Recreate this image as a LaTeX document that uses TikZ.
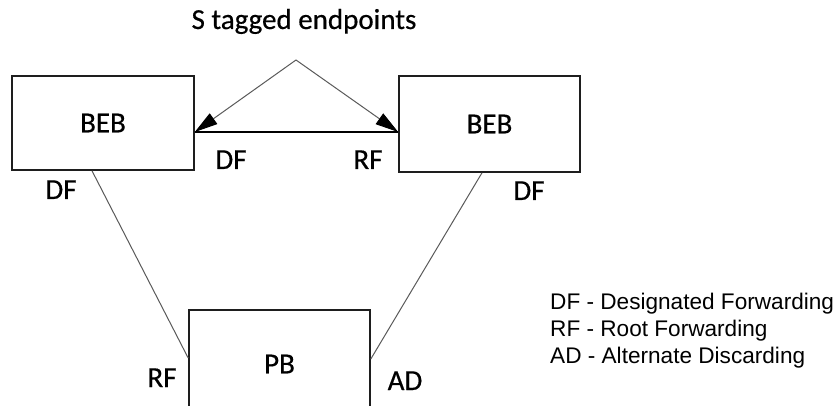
\documentclass[tikz,border=0pt]{standalone}
\usepackage{fontspec}
\setmainfont{Carlito}[FakeBold=0.5]
\newfontfamily\legendfont{Liberation Sans}
\usetikzlibrary{arrows.meta}
\definecolor{linegray}{HTML}{5A5A5A}
\definecolor{boxline}{HTML}{1E1E1E}
\tikzset{
  boxnode/.style={draw=boxline, line width=1.6pt, inner sep=0pt, minimum width=182pt,
    font=\fontsize{29}{34}\selectfont},
  portlabel/.style={anchor=base, inner sep=0pt, font=\fontsize{29}{34}\selectfont, text=black},
  legendline/.style={anchor=base west, inner sep=0pt, font=\legendfont\fontsize{22.6}{26}\selectfont},
  thinlink/.style={draw=linegray, line width=1pt},
  taglink/.style={draw=linegray, line width=1pt, -{Triangle[length=23pt,width=13pt,color=black]}},
  hlink/.style={draw=black, line width=1.5pt}
}
\begin{document}
\begin{tikzpicture}[x=1pt, y=-1pt]
\clip (0,0) rectangle (840,406);
\fill[white] (0,0) rectangle (840,406);
% boxes
\node[boxnode, minimum height=94pt] (lb) at (103,123) {BEB};
\node[boxnode, minimum height=96pt, minimum width=181pt] (rb) at (489.5,124) {BEB};
\node[boxnode, minimum height=108pt, minimum width=181pt] (pb) at (279.5,364) {PB};
% connectors
\coordinate (apex) at (296,60);
\draw[hlink] ([yshift=-9pt]lb.east) -- ([yshift=-8pt]rb.west);
\draw[taglink] (apex) -- ([yshift=-9pt]lb.east);
\draw[taglink] (apex) -- ([yshift=-8pt]rb.west);
\draw[thinlink] ([xshift=-11pt]lb.south) -- ([yshift=6pt]pb.west);
\draw[thinlink] ([xshift=-7.5pt]rb.south) -- ([yshift=5pt]pb.east);
% labels
\node[portlabel] (title) at (304,29) {S tagged endpoints};
\node[portlabel] (dfh) at (231,169) {DF};
\node[portlabel] (rfh) at (368,169) {RF};
\node[portlabel] (dfl) at (61,199) {DF};
\node[portlabel] (dfr) at (529,200) {DF};
\node[portlabel] (rfp) at (162,387) {RF};
\node[portlabel] (adp) at (405,390) {AD};
% legend
\node[legendline] (leg1) at (550,309) {DF - Designated Forwarding};
\node[legendline] (leg2) at (550,336) {RF - Root Forwarding};
\node[legendline] (leg3) at (550,363) {AD - Alternate Discarding};
\end{tikzpicture}
\end{document}
